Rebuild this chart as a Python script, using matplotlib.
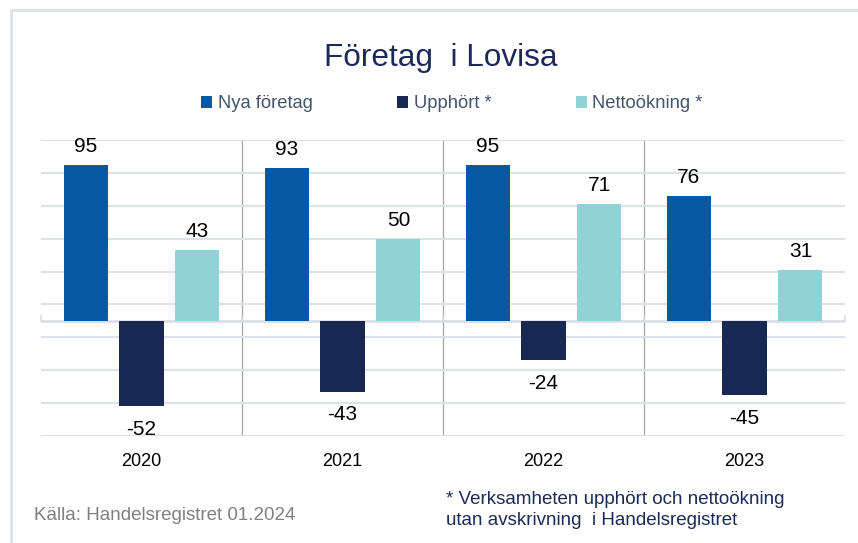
import matplotlib.pyplot as plt
import numpy as np
from matplotlib.patches import Rectangle

plt.rcParams['font.family'] = ['Liberation Sans', 'DejaVu Sans']

years = ['2020', '2021', '2022', '2023']
nya = [95, 93, 95, 76]
upphort = [-52, -43, -24, -45]
netto = [43, 50, 71, 31]

series = [('Nya företag', nya, '#0559a3'),
          ('Upphört *', upphort, '#172852'),
          ('Nettoökning *', netto, '#8fd3d6')]

fig = plt.figure(figsize=(8.58, 5.43), dpi=100)
ax = fig.add_axes([41/858, 1-436/543, (845-41)/858, 296/543])

x = np.arange(len(years))
width = 0.22
step = 0.278
for i, (name, vals, col) in enumerate(series):
    pos = x + (i - 1) * step
    bars = ax.bar(pos, vals, width, color=col, label=name, zorder=3)
    for b, v in zip(bars, vals):
        if v >= 0:
            ax.annotate(str(v), (b.get_x() + b.get_width()/2, v), xytext=(0, 6.5),
                        textcoords='offset points', ha='center', va='bottom',
                        fontsize=15, color='#000000')
        else:
            ax.annotate(str(v), (b.get_x() + b.get_width()/2, v), xytext=(0, -10),
                        textcoords='offset points', ha='center', va='top',
                        fontsize=15, color='#000000')

ax.set_xlim(-0.5, 3.5)
ax.set_ylim(-70, 110)
ax.set_yticks(np.arange(-70, 111, 20))
ax.yaxis.grid(True, color='#dde1e8', linewidth=1.5, zorder=0)
ax.set_yticklabels([])
ax.tick_params(axis='y', length=0)
ax.set_xticks(x)
ax.set_xticklabels(years, fontsize=13)
ax.tick_params(axis='x', length=0, pad=12)
for s in ax.spines.values():
    s.set_visible(False)

# zero line and category separators
ax.axhline(0, color='#d9dce3', linewidth=1.8, zorder=2)
for b in [0.5, 1.5, 2.5]:
    ax.axvline(b, color='#a6a6a6', linewidth=0.9, zorder=1)
for b in [-0.5, 0.5, 1.5, 2.5, 3.5]:
    ax.plot([b, b], [0, 3], color='#d9dce3', linewidth=1.2, zorder=2, clip_on=False)

fig.text(441/858, 1-58/543, 'Företag  i Lovisa', ha='center', va='center',
         fontsize=22.7, color='#1b2a58')

leg = fig.legend(loc='center', bbox_to_anchor=(452/858, 1-104/543), ncol=3,
                 frameon=False, fontsize=13.2, handlelength=0.6, handleheight=0.6,
                 handletextpad=0.3, columnspacing=4.6)
for t in leg.get_texts():
    t.set_color('#44546a')

fig.text(34/858, 1-516/543, 'Källa: Handelsregistret 01.2024', ha='left', va='center',
         fontsize=13.5, color='#808080')
fig.text(446/858, 1-510/543,
         '* Verksamheten upphört och nettoökning\nutan avskrivning  i Handelsregistret',
         ha='left', va='center', fontsize=13.5, color='#1b2a58', linespacing=1.25)

fig.patches.append(Rectangle((11/858, -0.1), 2, 1 - 10/543 + 0.1, transform=fig.transFigure,
                             fill=False, edgecolor='#dde1e8', linewidth=2))

fig.savefig('out.png', dpi=100)
